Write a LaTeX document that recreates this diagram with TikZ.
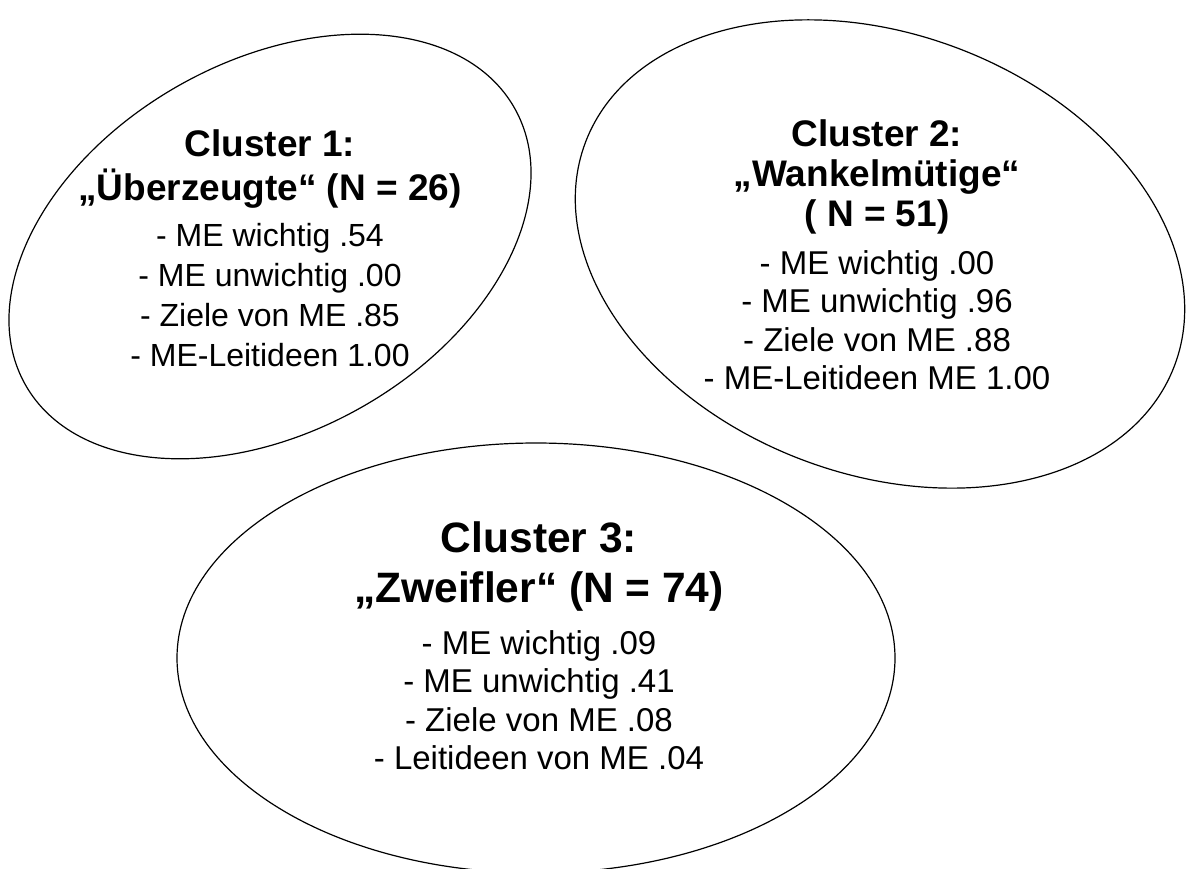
\documentclass[tikz,border=0pt]{standalone}
\usepackage{fontspec}
\setmainfont{Liberation Sans}

\begin{document}
\begin{tikzpicture}[x=1pt, y=-1pt, line width=1.2pt,
    clhead/.style={align=center, anchor=base, inner sep=0pt,
        font=\bfseries\fontsize{37}{44}\selectfont},
    cllist/.style={align=center, anchor=base, inner sep=0pt,
        font=\fontsize{33}{38.3}\selectfont}]
    \useasboundingbox (0,0) rectangle (1186,868);
    \coordinate (e1) at (270,246.5);
    \coordinate (e2) at (880,254);
    \coordinate (e3) at (536,658);
    \draw[rotate around={29.5:(e1)}] (e1) ellipse [x radius=281, y radius=185];
    \draw[rotate around={-20.8:(e2)}] (e2) ellipse [x radius=315, y radius=220];
    \draw (e3) ellipse [x radius=359, y radius=215];
    % cluster 1 (base = last line)
    \node[clhead] (c1) at (270,200) {Cluster 1:\\„Überzeugte“ (N = 26)};
    \node[cllist, font=\fontsize{32}{40}\selectfont] (c1list) at (270,366)
        {- ME wichtig .54\\- ME unwichtig .00\\- Ziele von ME .85\\- ME-Leitideen 1.00};
    % cluster 2
    \node[clhead, font=\bfseries\fontsize{37}{40}\selectfont] (c2) at (877,226)
        {Cluster 2:\\„Wankelmütige“\\( N = 51)};
    \node[cllist] (c2list) at (877,389.5)
        {- ME wichtig .00\\- ME unwichtig .96\\- Ziele von ME .88\\- ME-Leitideen ME 1.00};
    % cluster 3
    \node[clhead, font=\bfseries\fontsize{42.5}{50}\selectfont] (c3) at (539,602)
        {Cluster 3:\\„Zweifler“ (N = 74)};
    \node[cllist] (c3list) at (539,769.5)
        {- ME wichtig .09\\- ME unwichtig .41\\- Ziele von ME .08\\- Leitideen von ME .04};
\end{tikzpicture}
\end{document}
